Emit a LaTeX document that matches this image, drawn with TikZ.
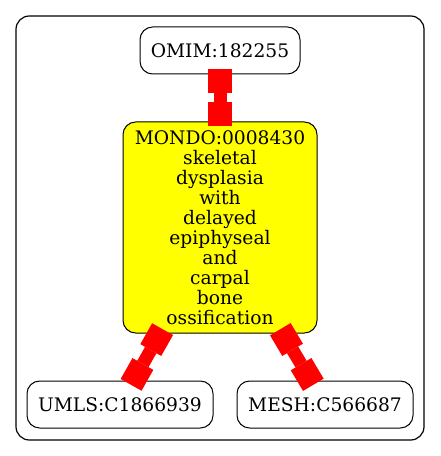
\documentclass[tikz,border=0pt]{standalone}
\usepackage{fontspec}
\setmainfont{DejaVu Serif}
\usetikzlibrary{arrows.meta}
\definecolor{nodeyellow}{RGB}{255,255,0}
\definecolor{edgered}{RGB}{255,0,0}
\begin{document}
\begin{tikzpicture}[x=0.75pt,y=-0.75pt,
  term/.style={draw=black, line width=0.75pt, rounded corners=9.5pt, inner sep=0pt,
    align=center, font=\fontsize{14}{15}\selectfont},
  link/.style={draw=edgered, line width=9.75pt,
    {Square[length=18pt,width=18pt,line width=0pt,fill=edgered,color=edgered]}-{Square[length=18pt,width=18pt,line width=0pt,fill=edgered,color=edgered]},
    shorten <=-3.75pt, shorten >=-3.75pt}
]
\useasboundingbox (0,0) rectangle (440,456);
\node[draw=black, line width=0.9pt, rounded corners=10pt, minimum width=306pt, minimum height=318pt, inner sep=0pt] (cluster) at (220,228) {};
\node[term, minimum width=120pt, minimum height=35.25pt] (omim) at (220,50.5) {OMIM:182255};
\node[term, fill=nodeyellow, minimum width=145.5pt, minimum height=158.25pt] (mondo) at (220,227.5) {MONDO:0008430\\skeletal\\dysplasia\\with\\delayed\\epiphyseal\\and\\carpal\\bone\\ossification};
\node[term, minimum width=139.5pt, minimum height=35.25pt] (umls) at (120,404.5) {UMLS:C1866939};
\node[term, minimum width=132pt, minimum height=35.25pt] (mesh) at (325,404.5) {MESH:C566687};
\draw[link] (omim) -- (mondo);
\draw[link] (mondo) -- (umls);
\draw[link] (mondo) -- (mesh);
\end{tikzpicture}
\end{document}
